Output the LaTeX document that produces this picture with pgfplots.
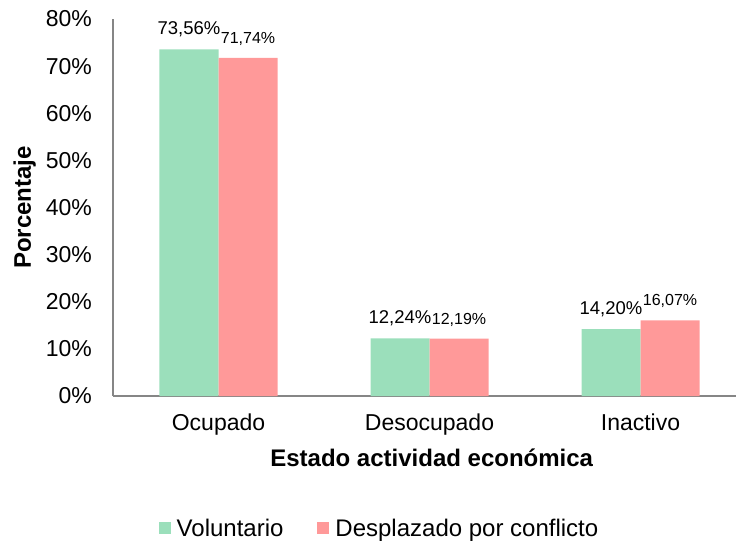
\documentclass[border=0pt]{standalone}
\usepackage{pgfplots}
\pgfplotsset{compat=1.18}
\usepackage{fontspec}
\setmainfont{Liberation Sans}
\definecolor{verde}{RGB}{155,223,187}
\definecolor{rosa}{RGB}{255,153,153}
\definecolor{eje}{RGB}{134,134,134}
\pgfplotsset{sqlegend/.style={legend image code/.code={%
  \fill[##1, draw=none] (0pt,-5pt) rectangle (12pt,7pt);
  \path[fill=none, draw=none] (0pt,0pt) rectangle (18pt,0pt);}}}

\begin{document}
\begin{tikzpicture}
\path[use as bounding box] (-113pt,-147pt) rectangle (623pt,396pt);
\begin{axis}[
  at={(0pt,0pt)}, anchor=south west,
  scale only axis, width=623pt, height=377pt,
  ybar=0pt, bar width=59pt,
  xmin=-0.5, xmax=2.4526, ymin=0, ymax=80,
  axis x line=bottom, axis y line=left,
  axis line style={eje, line width=1.3pt, -},
  major tick length=0pt,
  xtick={0,1,2}, xticklabels={Ocupado,Desocupado,Inactivo},
  ytick={0,10,20,30,40,50,60,70,80},
  yticklabels={0\%,10\%,20\%,30\%,40\%,50\%,60\%,70\%,80\%},
  tick label style={font=\fontsize{23}{27}\selectfont},
  yticklabel style={anchor=east, inner sep=0pt, xshift=-21pt},
  xticklabel style={anchor=north, inner sep=0pt, yshift=-18pt},
  /pgf/number format/assume math mode=true,
  point meta=y,
  nodes near coords={\pgfmathprintnumber[fixed, fixed zerofill, precision=2, use comma]{\pgfplotspointmeta}\%},
  legend columns=2,
  legend style={at={(0.4262,-0.3515)}, anchor=center, draw=none, fill=none,
    font=\fontsize{24}{28}\selectfont, nodes={inner sep=0pt},
    /tikz/every even column/.append style={column sep=34pt}},
]
\addplot[fill=verde, draw=none, sqlegend,
  every node near coord/.append style={anchor=base, inner sep=0pt, yshift=15pt, font=\fontsize{18.5}{20}\selectfont}]
  coordinates {(0,73.56) (1,12.24) (2,14.20)};
\addlegendentry{Voluntario}
\addplot[fill=rosa, draw=none, sqlegend,
  every node near coord/.append style={anchor=base, inner sep=0pt, yshift=14.5pt, font=\fontsize{16}{18}\selectfont}]
  coordinates {(0,71.74) (1,12.19) (2,16.07)};
\addlegendentry{Desplazado por conflicto}
\end{axis}
\node[anchor=base, font=\bfseries\fontsize{24}{28}\selectfont] at (318.7pt,-70pt) {Estado actividad económica};
\node[rotate=90, anchor=base, font=\bfseries\fontsize{24}{28}\selectfont] at (-82pt,188.5pt) {Porcentaje};
\end{tikzpicture}
\end{document}
